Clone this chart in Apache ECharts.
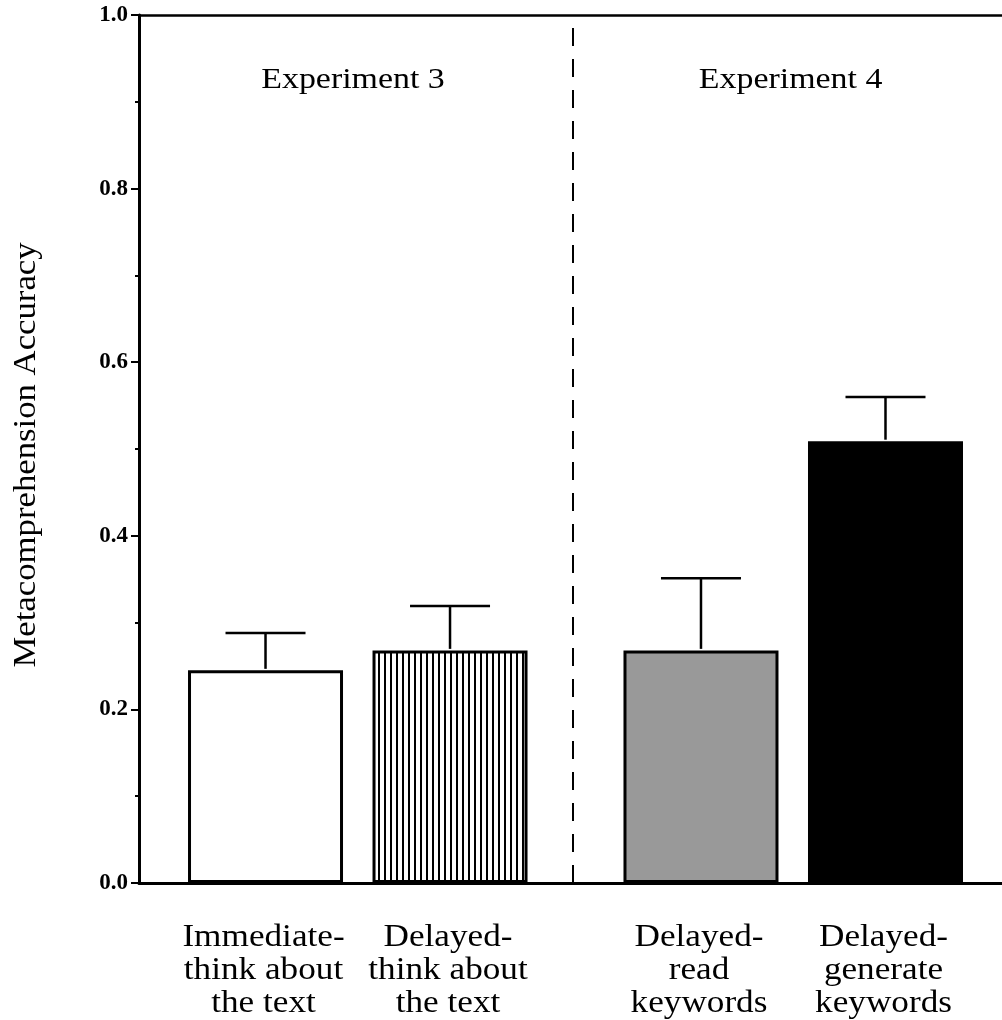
<!DOCTYPE html>
<html>
<head>
<meta charset="utf-8">
<script src="https://cdn.jsdelivr.net/npm/echarts@6/dist/echarts.min.js"></script>
<style>
html,body{margin:0;padding:0;background:#fff;}
#chart{width:1002px;height:1020px;}
</style>
</head>
<body>
<div id="chart"></div>
<script>
// ---- data ----
var categories = [
  'Immediate-\nthink about\nthe text',
  'Delayed-\nthink about\nthe text',
  'Delayed-\nread\nkeywords',
  'Delayed-\ngenerate\nkeywords'
];
var barPositions = [14.66, 36.04, 65.12, 86.5];   // x positions on 0-100 axis
var means = [0.245, 0.268, 0.268, 0.509];
var upperErrors = [0.288, 0.319, 0.351, 0.560];
var groupTitles = ['Experiment 3', 'Experiment 4'];
var groupTitlePositions = [24.8, 75.5];
var groupTitleLevel = 0.925;
var dividerPosition = 50.3;
var yTicks = [0, 0.2, 0.4, 0.6, 0.8, 1.0];
var yTitle = 'Metacomprehension Accuracy';

var FONT = '"Liberation Serif", "Times New Roman", serif';

// stripe pattern
var pc = document.createElement('canvas');
pc.width = 6; pc.height = 10;
var pctx = pc.getContext('2d');
pctx.fillStyle = '#fff'; pctx.fillRect(0, 0, 6, 10);
pctx.fillStyle = '#000'; pctx.fillRect(0, 0, 2, 10);

var fills = ['#ffffff', {image: pc, repeat: 'repeat'}, '#999999', '#000000'];

var barData = barPositions.map(function (x, i) {
  return {
    value: [x, means[i]],
    itemStyle: {color: fills[i], borderColor: '#000', borderWidth: 3}
  };
});
var errData = barPositions.map(function (x, i) { return [x, means[i], upperErrors[i]]; });
var labelData = barPositions.map(function (x, i) { return [x, 0, i]; });
var titleData = groupTitlePositions.map(function (x, i) { return [x, groupTitleLevel, i]; });

var chart = echarts.init(document.getElementById('chart'), null, {renderer: 'canvas'});
chart.setOption({
  animation: false,
  backgroundColor: '#fff',
  grid: {left: 139, right: 0, top: 15, bottom: 137},
  xAxis: [
    {type: 'value', min: 0, max: 100, position: 'bottom',
     axisLine: {show: true, onZero: false, lineStyle: {color: '#000', width: 3}},
     axisTick: {show: false}, axisLabel: {show: false}, splitLine: {show: false}},
    {type: 'value', min: 0, max: 100, position: 'top',
     axisLine: {show: true, onZero: false, lineStyle: {color: '#000', width: 2.5}},
     axisTick: {show: false}, axisLabel: {show: false}, splitLine: {show: false}}
  ],
  yAxis: {
    type: 'value', min: 0, max: 1, interval: 0.2,
    axisLine: {show: true, onZero: false, lineStyle: {color: '#000', width: 3}},
    axisTick: {show: true, length: 8, lineStyle: {color: '#000', width: 2}},
    minorTick: {show: true, splitNumber: 2, length: 4, lineStyle: {color: '#000', width: 2}},
    splitLine: {show: false},
    axisLabel: {
      margin: 11, color: '#000', fontFamily: FONT, fontWeight: 'bold', fontSize: 23,
      formatter: function (v) {
        for (var i = 0; i < yTicks.length; i++) {
          if (Math.abs(yTicks[i] - v) < 1e-6) return yTicks[i].toFixed(1);
        }
        return '';
      }
    }
  },
  graphic: [{
    type: 'text', x: 27, y: 455, rotation: Math.PI / 2, scaleX: 1.12,
    style: {text: yTitle, fill: '#000', font: '31px ' + FONT, align: 'center', verticalAlign: 'middle'}
  }],
  series: [
    {
      type: 'bar', xAxisIndex: 0, barWidth: 155, data: barData,
      markLine: {
        silent: true, symbol: 'none', label: {show: false},
        lineStyle: {color: '#000', width: 2, type: [18, 13]},
        data: [{xAxis: dividerPosition}]
      }
    },
    {
      type: 'custom', xAxisIndex: 0, clip: false, data: errData,
      renderItem: function (params, api) {
        var x = api.value(0);
        var p0 = api.coord([x, api.value(1)]);
        var p1 = api.coord([x, api.value(2)]);
        var half = 40;
        var st = {stroke: '#000', lineWidth: 2.5};
        return {type: 'group', children: [
          {type: 'line', shape: {x1: p0[0], y1: p0[1] - 1.5, x2: p1[0], y2: p1[1]}, style: st},
          {type: 'line', shape: {x1: p1[0] - half, y1: p1[1], x2: p1[0] + half, y2: p1[1]}, style: st}
        ]};
      }
    },
    {
      type: 'custom', xAxisIndex: 0, clip: false, data: labelData, silent: true,
      renderItem: function (params, api) {
        var p = api.coord([api.value(0), api.value(1)]);
        return {type: 'text', x: p[0] - 2, y: p[1] + 38, scaleX: 1.1,
          style: {text: categories[api.value(2)], fill: '#000', font: '32px ' + FONT,
                  align: 'center', verticalAlign: 'top', lineHeight: 33}};
      }
    },
    {
      type: 'custom', xAxisIndex: 0, clip: false, data: titleData, silent: true,
      renderItem: function (params, api) {
        var p = api.coord([api.value(0), api.value(1)]);
        return {type: 'text', x: p[0], y: p[1], scaleX: 1.13,
          style: {text: groupTitles[api.value(2)], fill: '#000', font: '30px ' + FONT,
                  align: 'center', verticalAlign: 'middle'}};
      }
    }
  ]
});
</script>
</body>
</html>
